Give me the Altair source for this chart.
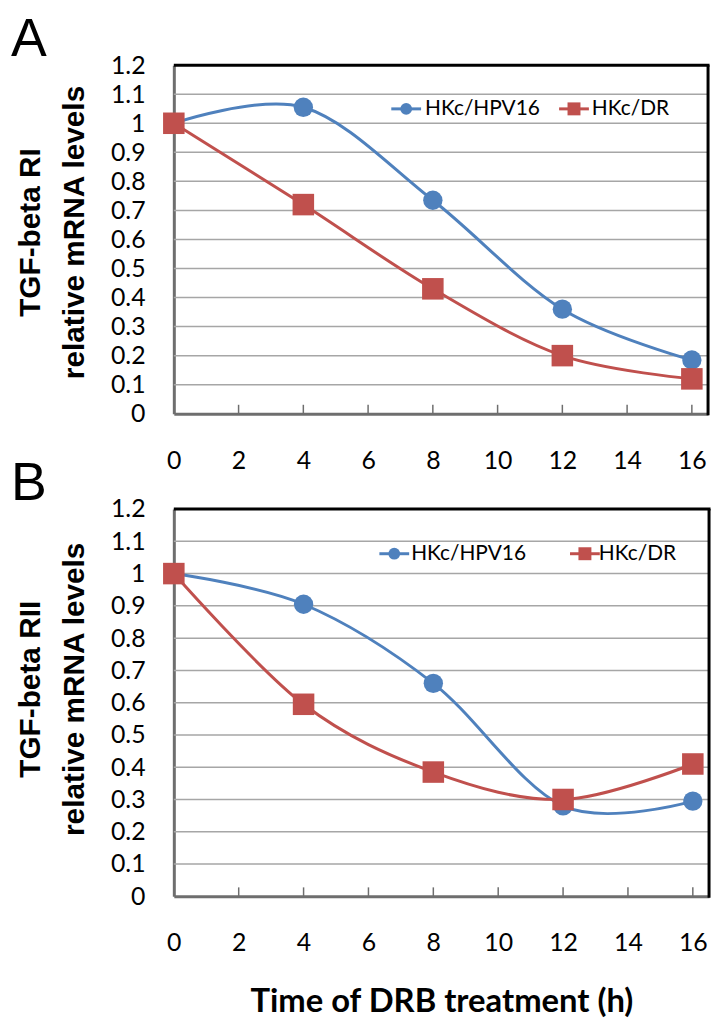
import altair as alt
import pandas as pd

# ---- data ----
hours = [0, 4, 8, 12, 16]
series = ["HKc/HPV16", "HKc/DR"]
colors = ["#4F81BD", "#C0504D"]
shapes = ["circle", "square"]

a_hpv16 = [1.0, 1.055, 0.735, 0.36, 0.185]
a_dr = [1.0, 0.72, 0.43, 0.20, 0.12]
b_hpv16 = [1.0, 0.905, 0.66, 0.28, 0.295]
b_dr = [1.0, 0.595, 0.385, 0.30, 0.41]

x_ticks = [0, 2, 4, 6, 8, 10, 12, 14, 16]
inner_ticks = [2, 4, 6, 8, 10, 12, 14, 16]
y_ticks = [0, 0.1, 0.2, 0.3, 0.4, 0.5, 0.6, 0.7, 0.8, 0.9, 1.0, 1.1, 1.2]

title_a = ["TGF-beta RI", "relative mRNA levels"]
title_b = ["TGF-beta RII", "relative mRNA levels"]
x_title = "Time of DRB treatment (h)"

GRID = "#a6a6a6"
AXIS = "#6e6e6e"


def panel(letter, ytitle, hpv, dr, W, H, title_y, legend, with_xtitle):
    df = pd.DataFrame({
        "hour": hours * 2,
        "value": hpv + dr,
        "series": [series[0]] * len(hours) + [series[1]] * len(hours),
    })
    xaxis_kw = dict(values=x_ticks, ticks=False, tickSize=0, domainColor=AXIS,
                    domainWidth=3, grid=False, labelFont="Lato", labelFontSize=25,
                    labelColor="black", labelPadding=35, labelFlush=False,
                    labelOverlap=False)
    if with_xtitle:
        xaxis_kw.update(title=x_title, titleFont="Lato", titleFontSize=33,
                        titleFontWeight="bold", titleColor="black", titlePadding=30)
    else:
        xaxis_kw.update(title="")
    xaxis = alt.Axis(**xaxis_kw)
    xscale = alt.Scale(domain=[0, 16.5], nice=False)
    yaxis = alt.Axis(values=y_ticks, format=".1~f", ticks=False, tickSize=0,
                     domainColor=AXIS, domainWidth=3, grid=False,
                     labelFont="Lato", labelOverlap=False, labelFlush=False,
                     labelFontSize=25, labelColor="black", labelPadding=29,
                     title=ytitle, titleFont="Liberation Sans", titleFontSize=30,
                     titleFontWeight="bold", titleColor="black",
                     titleLineHeight=44, titleAngle=270, titleAlign="center",
                     titleBaseline="alphabetic", titleX=-135, titleY=title_y)
    yscale = alt.Scale(domain=[0, 1.2], nice=False)

    x = alt.X("hour:Q", scale=xscale, axis=xaxis)
    y = alt.Y("value:Q", scale=yscale, axis=yaxis)
    color = alt.Color("series:N", scale=alt.Scale(domain=series, range=colors), legend=None)

    grid_df = pd.DataFrame({"value": y_ticks[1:]})
    grid = alt.Chart(grid_df).mark_rule(color=GRID, strokeWidth=1.5).encode(y=y)

    base = alt.Chart(df)
    lines = base.mark_line(interpolate="cardinal", strokeWidth=3).encode(x=x, y=y, color=color)
    pts = base.mark_point(filled=True, opacity=1).encode(
        x=x, y=y, color=color,
        shape=alt.Shape("series:N", scale=alt.Scale(domain=series, range=shapes), legend=None),
        size=alt.Size("series:N", scale=alt.Scale(domain=series, range=[380, 470]), legend=None),
    )

    tick_df = pd.DataFrame({"hour": inner_ticks})
    ticks = alt.Chart(tick_df).mark_rule(color=AXIS, strokeWidth=1.5).encode(
        x=x, y=alt.value(H - 9), y2=alt.value(H))

    one = pd.DataFrame({"k": [0]})
    top_border = alt.Chart(one).mark_rule(color="black", strokeWidth=3).encode(
        x=alt.value(0), x2=alt.value(W + 1.5), y=alt.value(0))
    right_border = alt.Chart(one).mark_rule(color="black", strokeWidth=3).encode(
        x=alt.value(W), y=alt.value(0), y2=alt.value(H + 1.5))

    letter_mark = alt.Chart(one).mark_text(
        text=letter, font="Liberation Sans", fontSize=54, align="left",
        baseline="alphabetic", color="black").encode(x=alt.value(-164), y=alt.value(-9))

    # legend built from marks
    ly = legend["y"]
    leg_layers = []
    for i, s in enumerate(series):
        cx = legend["cx"][i]
        ldf = pd.DataFrame({"label": [s]})
        c = alt.Chart(ldf)
        leg_layers.append(c.mark_rule(color=colors[i], strokeWidth=3).encode(
            x=alt.value(cx - 15), x2=alt.value(cx + 15), y=alt.value(ly)))
        leg_layers.append(c.mark_point(shape=shapes[i], filled=True, opacity=1,
                                       color=colors[i], size=[140, 170][i]).encode(
            x=alt.value(cx), y=alt.value(ly)))
        leg_layers.append(c.mark_text(align="left", baseline="middle", font="Lato",
                                      fontSize=legend["fs"], color="black").encode(
            text="label:N", x=alt.value(legend["tx"][i]), y=alt.value(ly)))

    return alt.layer(grid, ticks, lines, pts, top_border, right_border, letter_mark,
                     *leg_layers).properties(width=W, height=H)


chart_a = panel("A", title_a, a_hpv16, a_dr, 538, 351, 168,
                {"y": 44, "cx": [234, 403], "tx": [253, 421], "fs": 21}, False)
chart_b = panel("B", title_b, b_hpv16, b_dr, 539, 390, 181,
                {"y": 45, "cx": [222, 414], "tx": [239, 428], "fs": 21}, True)

chart = alt.vconcat(chart_a, chart_b, spacing=96, bounds="flush").properties(
    padding={"left": 2, "top": 1, "right": 2, "bottom": 0}
).configure_view(stroke="transparent")

chart.save("out.html", embed_options={"renderer": "svg", "actions": False})
